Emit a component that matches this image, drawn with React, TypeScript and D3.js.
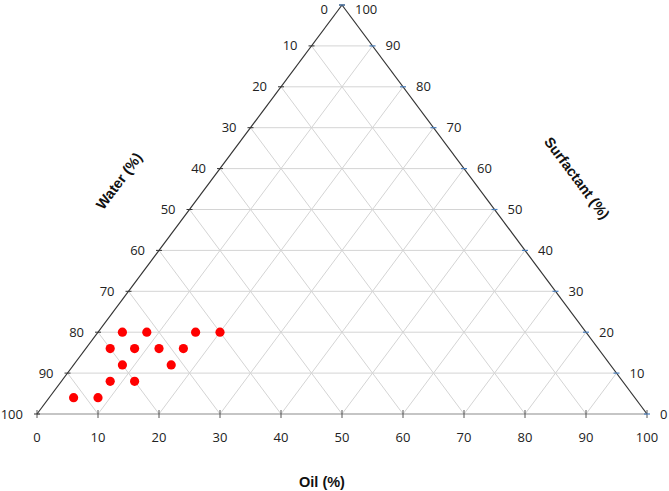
import React from "react";
import * as d3 from "d3";

const oilValues = [4, 8, 16, 20, 4, 8, 12, 16, 8, 16, 8, 12, 4, 8];
const surfactantValues = [20, 20, 20, 20, 16, 16, 16, 16, 12, 12, 8, 8, 4, 4];
const waterValues = [76, 72, 64, 60, 80, 76, 72, 68, 80, 72, 84, 80, 92, 88];
const tickValues = [0, 10, 20, 30, 40, 50, 60, 70, 80, 90, 100];

const W = 669;
const H = 491;

export default function App() {
  const xS = d3.scaleLinear().domain([0, 100]).range([37, 647]);
  const yS = d3.scaleLinear().domain([0, 100]).range([414, 5]);
  // position from (oil, surfactant)
  const px = (oil: number, surf: number) => xS(oil + surf / 2);
  const py = (surf: number) => yS(surf);

  const gridColor = "#d4d4d4";
  const tickFont = "'Open Sans', 'Liberation Sans', sans-serif";
  const titleFont = "'Liberation Sans', Arial, sans-serif";
  const inner = tickValues.filter((v) => v > 0 && v < 100);

  const angle = (Math.atan2(yS(0) - yS(100), xS(50) - xS(0)) * 180) / Math.PI;
  const labelY = (s: number) => Math.max(py(s), 9.5);

  return (
    <svg width={W} height={H} style={{ position: "absolute", left: 0, top: 0, background: "#fff" }}>
      {/* grid */}
      <g stroke={gridColor} strokeWidth={1} fill="none">
        {inner.map((v) => (
          <line key={"s" + v} x1={px(0, v)} y1={py(v)} x2={px(100 - v, v)} y2={py(v)} />
        ))}
        {inner.map((v) => (
          <line key={"o" + v} x1={px(v, 0)} y1={py(0)} x2={px(v, 100 - v)} y2={py(100 - v)} />
        ))}
        {inner.map((v) => (
          <line key={"w" + v} x1={px(100 - v, 0)} y1={py(0)} x2={px(0, 100 - v)} y2={py(100 - v)} />
        ))}
      </g>
      {/* edges */}
      <line x1={px(0, 0)} y1={py(0)} x2={px(100, 0)} y2={py(0)} stroke="#8c8c8c" strokeWidth={1.2} />
      <line x1={px(0, 0)} y1={py(0)} x2={px(0, 100)} y2={py(100)} stroke="#333" strokeWidth={1.2} />
      <line x1={px(100, 0)} y1={py(0)} x2={px(0, 100)} y2={py(100)} stroke="#333" strokeWidth={1.2} />

      {/* bottom ticks + labels (Oil) */}
      {tickValues.map((v) => (
        <g key={"bt" + v}>
          <line x1={px(v, 0)} x2={px(v, 0)} y1={py(0) - 4} y2={py(0) + 4} stroke="#555" strokeWidth={1} />
          <text x={px(v, 0)} y={py(0) + 28} textAnchor="middle" fontFamily={tickFont} fontSize={13} fill="#222">
            {v}
          </text>
        </g>
      ))}
      {/* left ticks + labels (Water) */}
      {tickValues.map((v) => {
        const s = 100 - v;
        return (
          <g key={"lt" + v}>
            <line x1={px(0, s) - 3} x2={px(0, s) + 3} y1={py(s)} y2={py(s)} stroke="#333" strokeWidth={1} />
            <text x={px(0, s) - 14} y={labelY(s)} dy="0.35em" textAnchor="end" fontFamily={tickFont} fontSize={13} fill="#222">
              {v}
            </text>
          </g>
        );
      })}
      {/* right ticks + labels (Surfactant) */}
      {tickValues.map((v) => (
        <g key={"rt" + v}>
          <line x1={px(100 - v, v) - 3} x2={px(100 - v, v) + 3} y1={py(v)} y2={py(v)} stroke="#4a7ebb" strokeWidth={1.2} />
          <text x={px(100 - v, v) + 13} y={labelY(v)} dy="0.35em" textAnchor="start" fontFamily={tickFont} fontSize={13} fill="#222">
            {v}
          </text>
        </g>
      ))}

      {/* points */}
      {oilValues.map((o, i) => (
        <circle
          key={"p" + i}
          cx={px(o, surfactantValues[i])}
          cy={py(100 - o - waterValues[i])}
          r={4.6}
          fill="#ff0000"
        />
      ))}

      {/* titles */}
      <text x={322} y={487} textAnchor="middle" fontFamily={titleFont} fontWeight="bold" fontSize={14.5} fill="#111">
        Oil (%)
      </text>
      <text
        transform={`translate(119,181) rotate(${-angle})`}
        textAnchor="middle"
        dy="0.35em"
        fontFamily={titleFont}
        fontWeight="bold"
        fontSize={14.5}
        fill="#111"
      >
        Water (%)
      </text>
      <text
        transform={`translate(577,178) rotate(${angle})`}
        textAnchor="middle"
        dy="0.35em"
        fontFamily={titleFont}
        fontWeight="bold"
        fontSize={14.5}
        fill="#111"
      >
        Surfactant (%)
      </text>
    </svg>
  );
}
